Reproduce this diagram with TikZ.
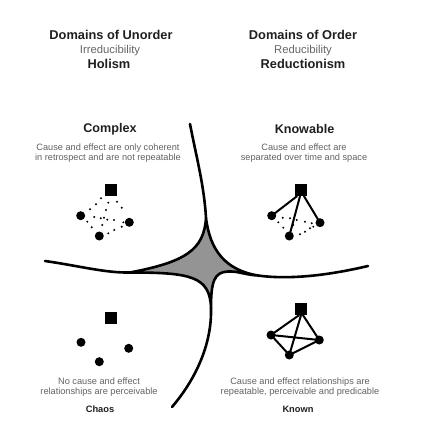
\documentclass[tikz,border=0pt]{standalone}
\usepackage{fontspec}
\setmainfont{Liberation Sans}
\begin{document}
\begin{tikzpicture}[x=1pt,y=-1pt,
  txt/.style={inner sep=0pt,align=center},
  head/.style={txt,font=\fontsize{12.8}{14}\selectfont\bfseries,text=black!88},
  sub/.style={txt,font=\fontsize{11.3}{13}\selectfont,text=black!60},
  ttl/.style={txt,font=\fontsize{12.6}{14}\selectfont\bfseries,text=black!88},
  desc/.style={txt,font=\fontsize{9.2}{10}\selectfont,text=black!62},
  lbl/.style={txt,font=\fontsize{9.3}{11}\selectfont\bfseries,text=black!88},
  sq/.style={fill=black,draw=none,minimum size=12pt,inner sep=0pt},
  ball/.style={circle,fill=black,draw=none,minimum size=9pt,inner sep=0pt},
  dot/.style={circle,fill=black,draw=none,minimum size=2.2pt,inner sep=0pt},
  link/.style={line width=2pt,line cap=round},
  arm/.style={line width=2.6pt,line cap=round},
  core/.style={line width=2.6pt,line join=round,draw=black,fill=black!42}
]
\useasboundingbox (0,0) rectangle (435,446);

% headers
\node[head] (hu) at (111,35) {Domains of Unorder};
\node[sub]  (ir) at (110,51) {Irreducibility};
\node[head] (ho) at (109,64) {Holism};
\node[head] (ho2) at (303,35) {Domains of Order};
\node[sub]  (re) at (303,51) {Reducibility};
\node[head] (rd) at (303,64) {Reductionism};

% central shape: four arm tips and four junction points
\coordinate (T) at (190,124);
\coordinate (L) at (45,261);
\coordinate (R) at (368,266);
\coordinate (B) at (172,407);
\coordinate (Pt) at (206,218);
\coordinate (Pl) at (130,272.5);
\coordinate (Pr) at (258,275.5);
\coordinate (Pb) at (211,308);
\path[core] (Pt) .. controls (204,250) and (185,262) .. (Pl)
  .. controls (190,272.5) and (210,276) .. (Pb)
  .. controls (211,282) and (214,272) .. (228,271.5)
  .. controls (238,271) and (246,275) .. (Pr)
  .. controls (225,270) and (210,250) .. cycle;
\draw[arm] (T) .. controls (197,160) and (204,185) .. (Pt);
\draw[arm] (L) .. controls (80,266) and (105,273) .. (Pl);
\draw[arm] (Pr) .. controls (290,280) and (330,275) .. (R);
\draw[arm] (Pb) .. controls (212,345) and (195,380) .. (B);

% Complex
\node[ttl] (cx) at (110,129) {Complex};
\node[desc] (cxd) at (108,153) {Cause and effect are only coherent\\in retrospect and are not repeatable};
\node[sq] (cxs) at (111,190) {};
\node[ball] (cx1) at (80.7,215.7) {};
\node[ball] (cx2) at (129.3,222.3) {};
\node[ball] (cx3) at (99.3,236) {};
\foreach \p [count=\i] in {(101,198.3),(108.3,202.7),(117,201.7),(96,204.3),(90,209.3),(106,210),
  (121.7,207.7),(94.3,217),(100.7,218.3),(104,217.7),(107.3,219.7),(114,220),(87.3,221.7),
  (91.7,227.3),(102.3,225),(114.3,230),(121.7,226.7),(123.3,222.3),(108.3,233.3)}
  \node[dot] (cd\i) at \p {};

% Knowable
\node[ttl] (kn) at (304.5,129) {Knowable};
\node[desc] (knd) at (304,153) {Cause and effect are\\separated over time and space};
\node[sq] (kns) at (301,190) {};
\node[ball] (kn1) at (271.7,215.7) {};
\node[ball] (kn2) at (320,222.7) {};
\node[ball] (kn3) at (289.3,236) {};
\draw[link] ([xshift=-4pt]kns.south) -- (kn1.center);
\draw[link] ([xshift=-1pt]kns.south) -- (kn3.center);
\draw[link] ([xshift=3pt]kns.south) -- (kn2.center);
\foreach \p [count=\i] in {(282.7,217.7),(290,218.3),(296.7,220),(305,221.7),(278.3,222.3),
  (283.3,227.7),(293.3,225),(311.7,223.3),(313.3,226.7),(300,234.3),(305,231.7),(310,228.3)}
  \node[dot] (kd\i) at \p {};

% Chaos
\node[sq] (chs) at (110.5,318) {};
\node[ball] (ch1) at (81,342.3) {};
\node[ball] (ch2) at (128.7,348.3) {};
\node[ball] (ch3) at (99.3,361.7) {};
\node[desc] (chd) at (99,387) {No cause and effect\\relationships are perceivable};
\node[lbl] (ch) at (100,409) {Chaos};

% Known
\node[sq] (kws) at (301,309) {};
\node[ball] (kw1) at (271,335) {};
\node[ball] (kw2) at (319.3,340) {};
\node[ball] (kw3) at (289.3,355) {};
\draw[link] ([xshift=-2pt]kws.south) -- (kw1.center);
\draw[link] (kws.south) -- (kw3.center);
\draw[link] ([xshift=2pt]kws.south) -- (kw2.center);
\draw[link] (kw1.center) -- (kw3.center) -- (kw2.center) -- (kw1.center);
\node[desc] (kwd) at (300,387) {Cause and effect relationships are\\repeatable, perceivable and predicable};
\node[lbl] (kw) at (298,409) {Known};
\end{tikzpicture}
\end{document}
